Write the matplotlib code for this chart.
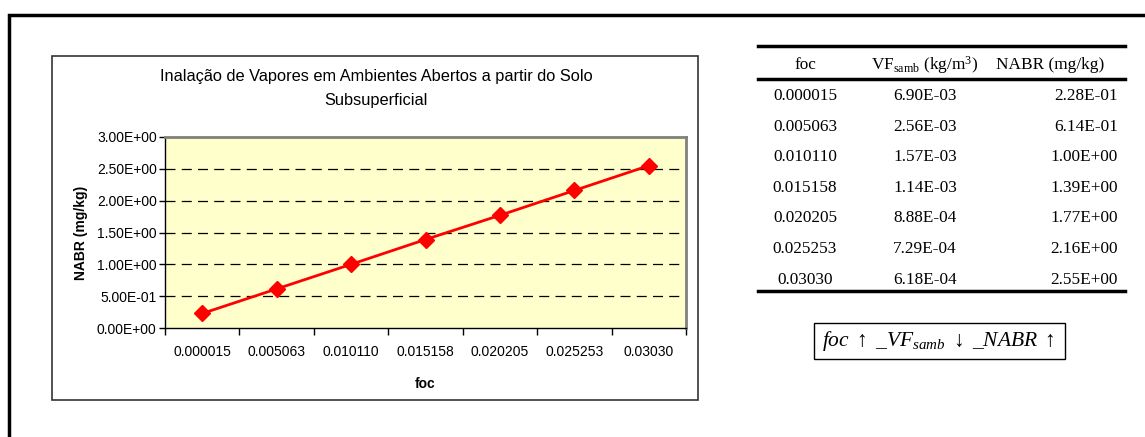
import matplotlib
matplotlib.use("Agg")
import matplotlib.pyplot as plt
from matplotlib.patches import Rectangle
from matplotlib.lines import Line2D

# ---------------- data ----------------
foc_labels = ["0.000015", "0.005063", "0.010110", "0.015158", "0.020205", "0.025253", "0.03030"]
vf_samb = [6.90e-03, 2.56e-03, 1.57e-03, 1.14e-03, 8.88e-04, 7.29e-04, 6.18e-04]
nabr = [0.228, 0.614, 1.00, 1.39, 1.77, 2.16, 2.55]
y_ticks = [0.0, 0.5, 1.0, 1.5, 2.0, 2.5, 3.0]
title = "Inalação de Vapores em Ambientes Abertos a partir do Solo\nSubsuperficial"
x_label = "foc"
y_label = "NABR (mg/kg)"
table_header = ["foc", r"VF$_{\mathregular{samb}}$ (kg/m$^{\mathregular{3}}$)", "NABR (mg/kg)"]

plt.rcParams["mathtext.fontset"] = "custom"
plt.rcParams["mathtext.rm"] = "Liberation Serif"
plt.rcParams["mathtext.it"] = "Liberation Serif:italic"
plt.rcParams["mathtext.bf"] = "Liberation Serif:bold"

W, H = 1145, 437
fig = plt.figure(figsize=(W / 100, H / 100), dpi=100)
fig.patch.set_facecolor("white")

def fx(x):
    return x / W

def fy(y):
    return 1 - y / H

def frect(x0, y0, x1, y1):
    return [fx(x0), fy(y1), fx(x1) - fx(x0), fy(y0) - fy(y1)]

# outer frame
fig.add_artist(Rectangle((fx(9), fy(H + 20)), fx(W + 20), fy(15) - fy(H + 20),
                         transform=fig.transFigure, fill=False, lw=2.5, ec="black"))
# chart area box
fig.add_artist(Rectangle((fx(52), fy(400)), fx(698) - fx(52), fy(56) - fy(400),
                         transform=fig.transFigure, fill=False, lw=1.2, ec="#333333"))

# ---------------- chart ----------------
cfs = 10
ax = fig.add_axes(frect(165, 137, 686, 328))
ax.set_facecolor("#FFFFCC")
xs = list(range(len(nabr)))
ax.plot(xs, nabr, color="red", lw=2, marker="D", ms=8, mec="red", mfc="red", zorder=3)
ax.set_xlim(-0.5, len(nabr) - 0.5)
ax.set_ylim(y_ticks[0], y_ticks[-1])
ax.set_yticks(y_ticks)
ax.set_yticklabels([f"{v:.2E}" for v in y_ticks], fontsize=cfs, family="Liberation Sans")
for v in y_ticks[1:-1]:
    ax.axhline(v, color="black", lw=0.9, ls=(0, (8, 5)), zorder=1)
ax.set_xticks([i - 0.5 for i in range(len(nabr) + 1)])
ax.set_xticklabels([])
ax.set_xticks(xs, minor=True)
ax.set_xticklabels(foc_labels, minor=True, fontsize=cfs, family="Liberation Sans")
ax.tick_params(axis="x", which="minor", length=0, pad=12)
ax.tick_params(axis="x", which="major", length=5, width=1)
ax.tick_params(axis="y", length=4, width=1, pad=2)
for s in ["top", "right"]:
    ax.spines[s].set_color("#808080")
    ax.spines[s].set_linewidth(2)
for s in ["left", "bottom"]:
    ax.spines[s].set_color("black")
    ax.spines[s].set_linewidth(1)
ax.set_xlabel(x_label, fontsize=cfs, family="Liberation Sans", fontweight="bold", labelpad=13)
ax.set_ylabel(y_label, fontsize=cfs, family="Liberation Sans", fontweight="bold", labelpad=6)

fig.text(fx(376), fy(89), title, ha="center", va="center", fontsize=11.8,
         family="Liberation Sans", linespacing=1.75)

# ---------------- table ----------------
def hline(x0, x1, y, lw):
    fig.add_artist(Line2D([fx(x0), fx(x1)], [fy(y), fy(y)], transform=fig.transFigure,
                          color="black", lw=lw))

hline(758, 1125, 46, 2.5)
hline(758, 1125, 79, 2.5)
hline(758, 1125, 291, 2.5)

tfs = 12.4
fig.text(fx(805), fy(65), table_header[0], ha="center", va="center", fontsize=tfs, family="Liberation Serif")
fig.text(fx(925), fy(65), table_header[1], ha="center", va="center", fontsize=tfs, family="Liberation Serif")
fig.text(fx(1050), fy(65), table_header[2], ha="center", va="center", fontsize=tfs, family="Liberation Serif")

row_y0, row_dy = 96, 30.6
for i in range(len(foc_labels)):
    y = row_y0 + i * row_dy
    fig.text(fx(805), fy(y), foc_labels[i], ha="center", va="center", fontsize=tfs, family="Liberation Serif")
    fig.text(fx(925), fy(y), f"{vf_samb[i]:.2E}", ha="center", va="center", fontsize=tfs, family="Liberation Serif")
    fig.text(fx(1118), fy(y), f"{nabr[i]:.2E}", ha="right", va="center", fontsize=tfs, family="Liberation Serif")

# formula box
fig.add_artist(Rectangle((fx(814), fy(359)), fx(1065) - fx(814), fy(323) - fy(359),
                         transform=fig.transFigure, fill=False, lw=1, ec="black"))
fig.text(fx(938), fy(341), r"$foc\ \uparrow\ \_VF_{samb}\ \downarrow\ \_NABR\ \uparrow$",
         ha="center", va="center", fontsize=15.5)

fig.savefig("out.png", dpi=100)
